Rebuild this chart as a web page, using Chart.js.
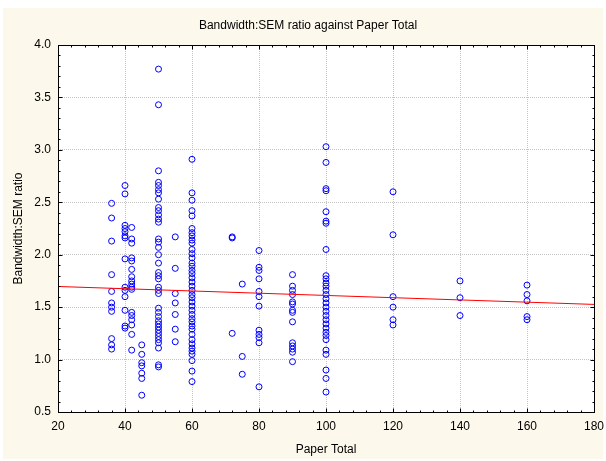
<!DOCTYPE html>
<html>
<head>
<meta charset="utf-8">
<title>Bandwidth:SEM ratio</title>
<script src="https://cdn.jsdelivr.net/npm/chart.js@4/dist/chart.umd.min.js"></script>
<style>
    html, body { margin: 0; padding: 0; background: #ffffff; }
    canvas { display: block; }
</style>
</head>
<body>
<canvas id="ratioChart" width="606" height="461"></canvas>

<script>

    // ratio values, one list per paper total
    const paperTotals = [36, 40, 42, 45, 50, 55, 60, 72, 75, 80, 90, 100, 120, 140, 160];

    const ratio36 = [2.49, 2.35, 2.13, 1.81, 1.65, 1.54, 1.50, 1.46, 1.20, 1.14, 1.10];
    const ratio40 = [2.66, 2.58, 2.28, 2.25, 2.22, 2.18, 2.16, 1.96, 1.69, 1.66, 1.60, 1.47, 1.32, 1.30];
    const ratio42 = [2.26, 2.15, 2.11, 1.97, 1.94, 1.86, 1.79, 1.75, 1.72, 1.69, 1.67, 1.45, 1.42, 1.38, 1.33, 1.24, 1.09];
    const ratio45 = [1.14, 1.05, 0.97, 0.94, 0.87, 0.82, 0.66];
    const ratio50 = [3.77, 3.43, 2.80, 2.69, 2.66, 2.62, 2.59, 2.53, 2.45, 2.42, 2.38, 2.34, 2.31, 2.15, 2.12, 2.07,
        2.00, 1.92, 1.83, 1.80, 1.77, 1.69, 1.66, 1.63, 1.49, 1.45, 1.41, 1.37, 1.34, 1.31, 1.28, 1.25, 1.22, 1.19,
        1.16, 1.11, 0.95, 0.93];
    const ratio55 = [2.17, 1.87, 1.63, 1.54, 1.43, 1.29, 1.17];
    const ratio60 = [2.91, 2.59, 2.52, 2.42, 2.37, 2.25, 2.21, 2.18, 2.14, 2.11, 2.05, 2.01, 1.97, 1.92, 1.89, 1.85,
        1.82, 1.78, 1.74, 1.70, 1.66, 1.62, 1.59, 1.55, 1.51, 1.47, 1.43, 1.39, 1.36, 1.32, 1.29, 1.24, 1.19, 1.15,
        1.11, 1.08, 1.05, 0.99, 0.89, 0.79];
    const ratio72 = [2.17, 2.16, 1.25];
    const ratio75 = [1.72, 1.03, 0.86];
    const ratio80 = [2.04, 1.88, 1.85, 1.77, 1.65, 1.60, 1.51, 1.28, 1.24, 1.21, 1.16, 0.74];
    const ratio90 = [1.81, 1.70, 1.66, 1.62, 1.55, 1.53, 1.47, 1.45, 1.36, 1.16, 1.13, 1.10, 1.07, 0.98];
    const ratio100 = [3.03, 2.88, 2.63, 2.61, 2.41, 2.32, 2.30, 2.05, 1.80, 1.77, 1.73, 1.70, 1.66, 1.62, 1.58, 1.54,
        1.50, 1.46, 1.42, 1.38, 1.34, 1.30, 1.26, 1.23, 1.19, 1.09, 1.05, 0.90, 0.82, 0.69];
    const ratio120 = [2.60, 2.19, 1.60, 1.50, 1.38, 1.33];
    const ratio140 = [1.75, 1.59, 1.42];
    const ratio160 = [1.71, 1.62, 1.56, 1.41, 1.38];

    const ratioLists = [ratio36, ratio40, ratio42, ratio45, ratio50, ratio55, ratio60, ratio72, ratio75,
        ratio80, ratio90, ratio100, ratio120, ratio140, ratio160];

    // least squares fit, end points at the axis limits
    const fitX = [20, 180];
    const fitY = [1.697, 1.526];

    const xTicks = [20, 40, 60, 80, 100, 120, 140, 160, 180];
    const yTicks = [0.5, 1.0, 1.5, 2.0, 2.5, 3.0, 3.5, 4.0];

    let points = [];
    paperTotals.map(function (total, i) {
        ratioLists[i].map(function (r) {
            points.push({ x: total, y: r });
        });
    });

    const fitLine = fitX.map(function (x, i) {
        return { x: x, y: fitY[i] };
    });

    // cream page, white plot area
    const backgroundPlugin = {
        id: 'panelBackground',
        beforeDraw: function (chart) {
            const ctx = chart.ctx;
            const area = chart.chartArea;
            ctx.save();
            ctx.fillStyle = '#ffffff';
            ctx.fillRect(0, 0, chart.width, chart.height);
            ctx.fillStyle = '#fcf8ec';
            ctx.fillRect(3, 8, chart.width - 6, chart.height - 10);
            ctx.fillStyle = '#ffffff';
            ctx.fillRect(area.left, area.top, area.right - area.left, area.bottom - area.top);
            ctx.restore();
        }
    };

    // black frame with inward tick marks on all four sides
    const framePlugin = {
        id: 'plotFrame',
        afterDatasetsDraw: function (chart) {
            const ctx = chart.ctx;
            const area = chart.chartArea;
            const xs = chart.scales.x, ys = chart.scales.y;
            const L = Math.round(area.left) + 0.5, R = Math.round(area.right) + 0.5;
            const T = Math.round(area.top) + 0.5, B = Math.round(area.bottom) + 0.5;
            ctx.save();
            ctx.strokeStyle = '#000000';
            ctx.lineWidth = 1;
            ctx.beginPath();
            // x: minor every 4, major every 20
            for (let i = 0; i <= 40; i++) {
                let px = Math.round(xs.getPixelForValue(20 + i * 4)) + 0.5;
                let len = (i % 5 == 0) ? 4 : 2;
                ctx.moveTo(px, B); ctx.lineTo(px, B - len);
                ctx.moveTo(px, T); ctx.lineTo(px, T + len);
            }
            // y: minor every 0.1, major every 0.5
            for (let j = 0; j <= 35; j++) {
                let py = Math.round(ys.getPixelForValue(0.5 + j * 0.1)) + 0.5;
                let len = (j % 5 == 0) ? 4 : 2;
                ctx.moveTo(L, py); ctx.lineTo(L + len, py);
                ctx.moveTo(R, py); ctx.lineTo(R - len, py);
            }
            ctx.stroke();
            ctx.strokeRect(L, T, R - L, B - T);
            ctx.restore();
        }
    };

    Chart.defaults.font.family = "'Liberation Sans', Arial, sans-serif";
    Chart.defaults.font.size = 12;
    Chart.defaults.color = '#000000';

    const ratioChart = new Chart(document.getElementById('ratioChart'), {
        type: 'scatter',
        data: {
            datasets: [
                {
                    data: points,
                    showLine: false,
                    pointStyle: 'circle',
                    pointRadius: 3,
                    pointBorderWidth: 1,
                    borderColor: '#0000ff',
                    backgroundColor: 'rgba(0,0,0,0)',
                    order: 2
                },
                {
                    data: fitLine,
                    showLine: true,
                    borderColor: '#ff0000',
                    borderWidth: 1,
                    pointRadius: 0,
                    order: 1
                }
            ]
        },
        options: {
            responsive: false,
            animation: false,
            devicePixelRatio: 1,
            layout: {
                padding: { left: 22, right: 12, top: 0, bottom: 0 }
            },
            plugins: {
                legend: { display: false },
                tooltip: { enabled: false },
                title: {
                    display: true,
                    text: 'Bandwidth:SEM ratio against Paper Total',
                    font: { size: 12, weight: 'normal' },
                    padding: { top: 18.8, bottom: 11.8 }
                }
            },
            scales: {
                x: {
                    type: 'linear',
                    min: 20,
                    max: 180,
                    afterBuildTicks: function (scale) {
                        scale.ticks = xTicks.map(function (v) { return { value: v }; });
                    },
                    afterFit: function (scale) {
                        scale.height = 49;
                        // the last label may hang past the frame, don't shrink the plot for it
                        scale.paddingLeft = 0;
                        scale.paddingRight = 0;
                    },
                    ticks: {
                        padding: 7,
                        maxRotation: 0,
                        callback: function (value) { return String(value); }
                    },
                    grid: {
                        color: '#c4c4c4',
                        lineWidth: 1,
                        drawTicks: false
                    },
                    border: { display: false, dash: [1, 1] },
                    title: {
                        display: true,
                        text: 'Paper Total',
                        font: { size: 12 },
                        padding: { top: 0, bottom: 4 }
                    }
                },
                y: {
                    type: 'linear',
                    min: 0.5,
                    max: 4.0,
                    afterBuildTicks: function (scale) {
                        scale.ticks = yTicks.map(function (v) { return { value: v }; });
                    },
                    afterFit: function (scale) {
                        scale.width = 36;
                    },
                    ticks: {
                        padding: 7,
                        callback: function (value) { return Number(value).toFixed(1); }
                    },
                    grid: {
                        color: '#c4c4c4',
                        lineWidth: 1,
                        drawTicks: false
                    },
                    border: { display: false, dash: [1, 1] },
                    title: {
                        display: true,
                        text: 'Bandwidth:SEM ratio',
                        font: { size: 12 },
                        padding: { top: -11, bottom: 0 }
                    }
                }
            }
        },
        plugins: [backgroundPlugin, framePlugin]
    });

</script>
</body>
</html>
